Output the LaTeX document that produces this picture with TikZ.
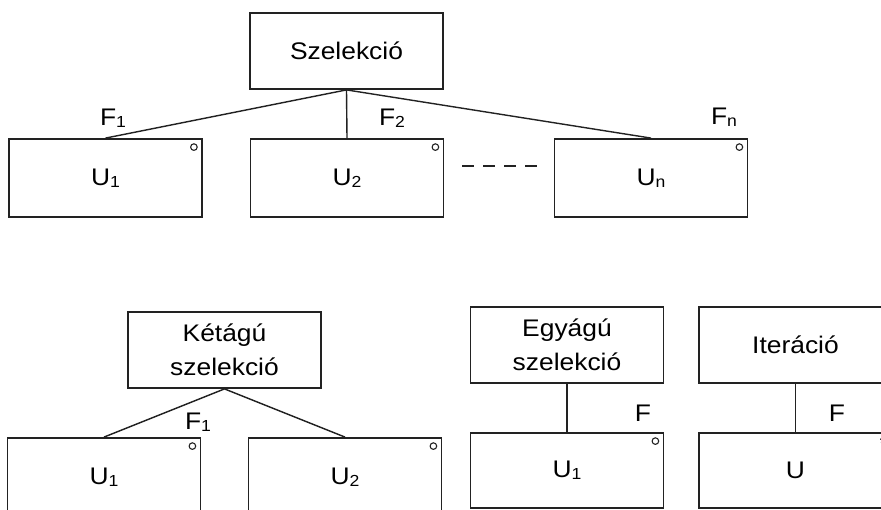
\documentclass[tikz,border=0pt]{standalone}
\usepackage{fontspec}
\setmainfont[FakeStretch=1.1]{Liberation Sans}
\newcommand{\mysub}[1]{\raisebox{-2pt}{\fontsize{16}{16}\selectfont #1}}
\definecolor{ink}{HTML}{222222}
\begin{document}
\begin{tikzpicture}[x=1pt,y=-1pt,
  box/.style={draw=ink,line width=1.8pt,rectangle,inner sep=0pt,minimum width=193pt,minimum height=76pt,align=center,font=\fontsize{24}{34}\selectfont},
  ubox/.style={box,minimum height=78pt},
  conn/.style={draw=ink,line width=1.4pt},
  lab/.style={inner sep=0pt,font=\fontsize{24}{26}\selectfont},
  knob/.style={draw=ink,line width=1.1pt}]
\useasboundingbox (0,0) rectangle (881,510);
\clip (0,0) rectangle (881,510);
% top selection
\node[box] (sel) at (346.5,51) {Szelekció};
\node[ubox] (u1) at (105.5,178) {U\mysub{1}};
\node[ubox] (u2) at (347,178) {U\mysub{2}};
\node[ubox] (un) at (651,178) {U\mysub{n}};
\draw[conn] (sel.south) -- (u1.north);
\draw[conn] (sel.south) -- (u2.north);
\draw[conn] (sel.south) -- (un.north);
\node[lab] (f1) at (113,118) {F\mysub{1}};
\node[lab] (f2) at (392,118) {F\mysub{2}};
\node[lab] (fn) at (724,117) {F\mysub{n}};
\coordinate (d1) at (462,166);
\coordinate (d2) at (540,166);
\draw[conn,dash pattern=on 12pt off 9pt] (d1) -- (d2);
% two-branch selection
\node[box] (ket) at (224.5,350) {Kétágú\\szelekció};
\node[ubox] (k1) at (104,477) {U\mysub{1}};
\node[ubox] (k2) at (345,477) {U\mysub{2}};
\draw[conn] (ket.south) -- (k1.north);
\draw[conn] (ket.south) -- (k2.north);
\node[lab] (kf) at (198,422) {F\mysub{1}};
% one-branch selection
\node[box] (egy) at (567,345) {Egyágú\\szelekció};
\node[box,minimum height=75pt] (e1) at (567,470.5) {U\mysub{1}};
\draw[conn] (egy.south) -- (e1.north);
\node[lab] (ef) at (643,413) {F};
% iteration
\node[box] (it) at (795.5,345) {Iteráció};
\node[box,minimum height=75pt] (iu) at (795.5,470.5) {U};
\draw[conn] (it.south) -- (iu.north);
\node[lab] (itf) at (837,413) {F};
% corner marks
\foreach \n in {u1,u2,un,k1,k2,e1}{
  \draw[knob] ([xshift=-9pt,yshift=-9pt]\n.north east) circle (3.3pt);
}
\node[inner sep=0pt,font=\fontsize{18}{18}\selectfont\bfseries] (star) at ([xshift=-9pt,yshift=-11pt]iu.north east) {*};
\end{tikzpicture}
\end{document}
